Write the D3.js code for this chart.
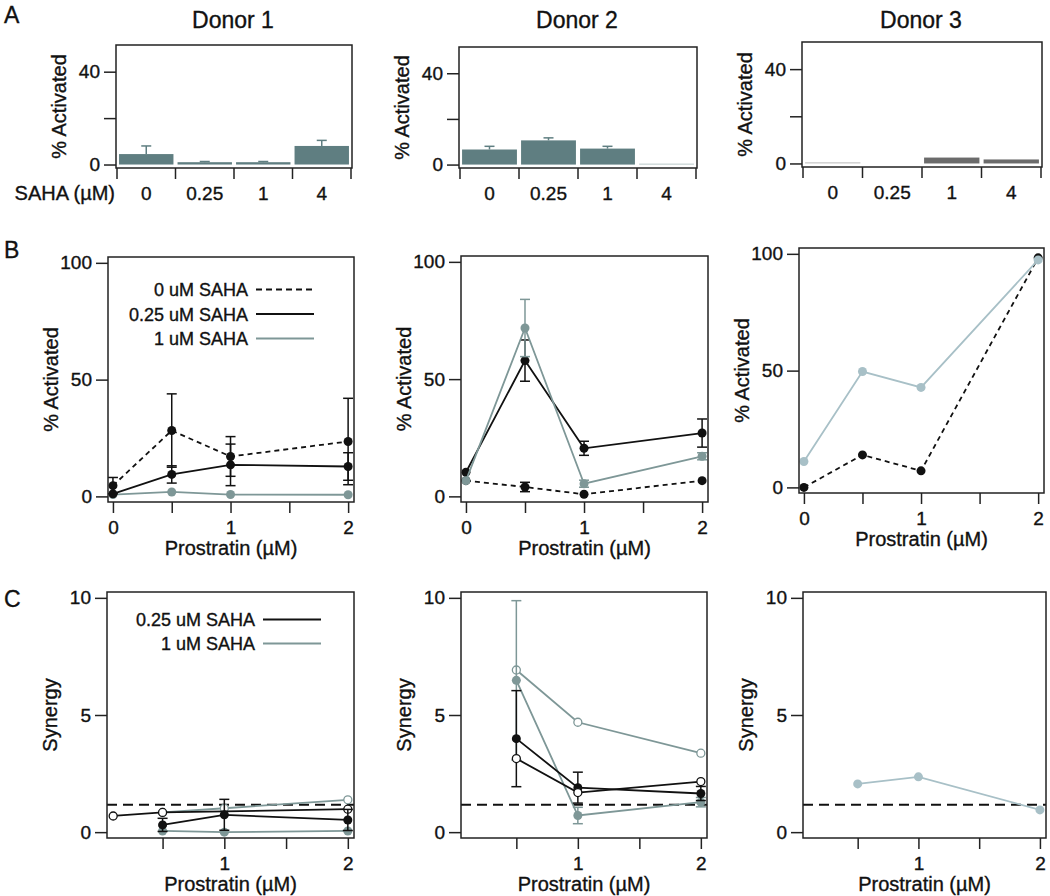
<!DOCTYPE html>
<html>
<head>
<meta charset="utf-8">
<script src="https://d3js.org/d3.v7.min.js"></script>
<style>
body { margin: 0; background: #fff; }
svg { display: block; font-family: "Liberation Sans", Arial, Helvetica, sans-serif; }
svg text { stroke: #111; stroke-width: 0.35px; }
.frame { fill: none; stroke: #222; stroke-width: 1.5px; }
.axis path { display: none; }
.axis line { stroke: #222; stroke-width: 1.5px; }
.axis text { font-size: 19px; fill: #111; font-family: "Liberation Sans", Arial, sans-serif; }
.title { font-size: 20px; fill: #111; }
.legend { font-size: 18px; fill: #111; }
</style>
<title>SAHA / Prostratin activation</title>
</head>
<body>
<script>
// ---- data ----
var donorNames = ["Donor 1", "Donor 2", "Donor 3"];
var sahaDoses = ["0", "0.25", "1", "4"];

// A: % activated by SAHA alone (mean, upper error)
var sahaD1 = [4.5, 1.0, 1.0, 8.0],  sahaD1Err = [3.5, 0.3, 0.3, 2.4];
var sahaD2 = [6.6, 10.6, 7.0, 0.4], sahaD2Err = [1.4, 1.1, 1.0, 0];
var sahaD3 = [0.5, 0, 2.5, 1.7],    sahaD3Err = [0, 0, 0, 0];

// B: % activated vs prostratin
var prostratin = [0, 0.5, 1, 2];
var d1Saha0 = [4.6, 28.2, 17.1, 23.5],  d1Saha0Err = [3.5, 15.7, 8.5, 18.5];
var d1Saha025 = [1.1, 9.4, 13.5, 12.8], d1Saha025Err = [0, 3.7, 8.9, 5.9];
var d1Saha1 = [0.8, 1.9, 0.8, 0.7];
var d2Saha0 = [6.7, 4.0, 0.9, 6.7],     d2Saha0Err = [0, 2.0, 0, 0];
var d2Saha025 = [10.3, 57.9, 20.5, 27.0], d2Saha025Err = [0, 8.8, 3.0, 6.0];
var d2Saha1 = [6.7, 71.8, 5.4, 17.1],   d2Saha1Err = [0, 12.2, 1.5, 1.5];
var d3Saha0 = [0, 13.9, 7.1, 98.3];
var d3Saha1 = [11.1, 49.6, 42.8, 97.4];

// C: synergy vs prostratin
var synDose = [0.5, 1, 2];
var d1Syn025 = [0.31, 0.74, 0.52], d1Syn025Err = [0.28, 0.66, 0.45];
var d1Syn025OpenDose = [0.1, 0.5, 2], d1Syn025Open = [0.69, 0.84, 0.98];
var d1Syn1 = [0.05, 0.0, 0.05];
var d1Syn1Open = [0.84, 1.02, 1.38];
var d2Syn025 = [3.99, 1.9, 1.65], d2Syn025Err = [2.05, 0.66, 0.3];
var d2Syn025Open = [3.14, 1.69, 2.16];
var d2Syn1 = [6.48, 0.71, 1.28], d2Syn1Err = [3.4, 0.35, 0.2];
var d2Syn1Open = [6.92, 4.69, 3.37];
var d3Syn1 = [2.06, 2.36, 0.95];
var synergyThreshold = 1.17;

// ---- styles ----
var teal = "#5f7e81", tealLight = "#b3c4c5", darkGray = "#6b6b6b", lightGray = "#c4c4c4";
var grayLine = "#7e9797", blueGray = "#a8c0c7", black = "#111";
var barFills = [[teal, teal, teal, teal], [teal, teal, teal, tealLight], [lightGray, darkGray, darkGray, darkGray]];

var svg = d3.select("body").append("svg")
    .attr("width", 1050)
    .attr("height", 896);

function frame(f) {
  svg.append("rect").attr("class", "frame")
    .attr("x", f.x).attr("y", f.y).attr("width", f.w).attr("height", f.h);
}

function yAxis(f, y, vals, fmt) {
  svg.append("g").attr("class", "axis")
    .attr("transform", "translate(" + f.x + ",0)")
    .call(d3.axisLeft(y).tickValues(vals).tickFormat(fmt || (d => d)).tickSize(12).tickPadding(4));
}

function xAxis(f, x, vals, fmt) {
  svg.append("g").attr("class", "axis")
    .attr("transform", "translate(0," + (f.y + f.h) + ")")
    .call(d3.axisBottom(x).tickValues(vals).tickFormat(fmt).tickSize(11).tickPadding(7.5));
}

function yTitle(f, txt) {
  svg.append("text").attr("class", "title")
    .attr("transform", "translate(" + (f.x - 57) + "," + (f.y + f.h / 2) + ") rotate(-90)")
    .attr("text-anchor", "middle").attr("dy", "0.35em").text(txt);
}

function xTitle(f, txt) {
  svg.append("text").attr("class", "title")
    .attr("x", f.x + f.w / 2).attr("y", f.y + f.h + 53)
    .attr("text-anchor", "middle").text(txt);
}

function series(x, y, xs, ys, errs, o) {
  var pts = xs.map((d, i) => [d, ys[i], errs ? errs[i] : 0]);
  var g = svg.append("g");
  g.append("path")
    .attr("d", d3.line().x(d => x(d[0])).y(d => y(d[1]))(pts))
    .attr("fill", "none").attr("stroke", o.color).attr("stroke-width", 1.8)
    .attr("stroke-dasharray", o.dash || null);
  var eb = g.selectAll(".eb").data(pts.filter(d => d[2] > 0)).enter().append("g")
    .attr("stroke", o.color).attr("stroke-width", 1.5);
  eb.append("line").attr("x1", d => x(d[0])).attr("x2", d => x(d[0]))
    .attr("y1", d => y(d[1] - d[2])).attr("y2", d => y(d[1] + d[2]));
  eb.append("line").attr("x1", d => x(d[0]) - 5).attr("x2", d => x(d[0]) + 5)
    .attr("y1", d => y(d[1] + d[2])).attr("y2", d => y(d[1] + d[2]));
  eb.append("line").attr("x1", d => x(d[0]) - 5).attr("x2", d => x(d[0]) + 5)
    .attr("y1", d => y(d[1] - d[2])).attr("y2", d => y(d[1] - d[2]));
  g.selectAll("circle").data(pts).enter().append("circle")
    .attr("cx", d => x(d[0])).attr("cy", d => y(d[1]))
    .attr("r", o.open ? 4 : 4.5)
    .attr("fill", o.open ? "#fff" : o.color)
    .attr("stroke", o.color).attr("stroke-width", o.open ? 1.3 : 0);
}

function legend(f, items, dx, dy0, step) {
  items.forEach(function(it, i) {
    var yy = f.y + dy0 + i * step;
    svg.append("text").attr("class", "legend")
      .attr("x", f.x + dx).attr("y", yy).attr("text-anchor", "end").text(it.label);
    svg.append("line")
      .attr("x1", f.x + dx + 8).attr("x2", f.x + dx + 66)
      .attr("y1", yy - 6.5).attr("y2", yy - 6.5)
      .attr("stroke", it.color).attr("stroke-width", 2)
      .attr("stroke-dasharray", it.dash || null);
  });
}

// panel letters
[["A", 23], ["B", 258], ["C", 607]].forEach(function(p) {
  svg.append("text").attr("x", 4).attr("y", p[1])
    .attr("font-size", 23).attr("fill", "#111").text(p[0]);
});

// ---- row A ----
var framesA = [{x: 116, y: 45, w: 236, h: 123}, {x: 459, y: 47, w: 238, h: 121}, {x: 802, y: 42, w: 240, h: 125}];
var sahaVals = [sahaD1, sahaD2, sahaD3], sahaErrs = [sahaD1Err, sahaD2Err, sahaD3Err];

framesA.forEach(function(f, k) {
  var y = d3.scaleLinear().domain([-1.5, 51.5]).range([f.y + f.h, f.y]);
  var x = d3.scaleBand().domain(sahaDoses).range([f.x + 1, f.x + f.w - 1])
      .paddingInner(0.07).paddingOuter(0.035);
  var bars = sahaDoses.map((d, i) => ({dose: d, v: sahaVals[k][i], e: sahaErrs[k][i], fill: barFills[k][i]}));

  svg.append("g").selectAll("rect").data(bars).enter().append("rect")
    .attr("x", d => x(d.dose)).attr("width", x.bandwidth())
    .attr("y", d => y(Math.max(d.v, 0.25))).attr("height", d => d.v > 0 ? y(0) - y(Math.max(d.v, 0.25)) : 0)
    .attr("fill", d => d.fill);
  var eb = svg.append("g").selectAll("g").data(bars.filter(d => d.e > 0)).enter().append("g")
    .attr("stroke", d => d.fill).attr("stroke-width", 1.5);
  eb.append("line").attr("x1", d => x(d.dose) + x.bandwidth() / 2).attr("x2", d => x(d.dose) + x.bandwidth() / 2)
    .attr("y1", d => y(d.v)).attr("y2", d => y(d.v + d.e));
  eb.append("line").attr("x1", d => x(d.dose) + x.bandwidth() / 2 - 5).attr("x2", d => x(d.dose) + x.bandwidth() / 2 + 5)
    .attr("y1", d => y(d.v + d.e)).attr("y2", d => y(d.v + d.e));

  frame(f);
  yAxis(f, y, [0, 20, 40], d => d === 20 ? "" : d);

  // category boundary ticks and labels
  var step = x.step(), x0 = x.range()[0];
  svg.append("g").selectAll("line").data(d3.range(sahaDoses.length + 1)).enter().append("line")
    .attr("x1", i => x0 + i * step).attr("x2", i => x0 + i * step)
    .attr("y1", f.y + f.h).attr("y2", f.y + f.h + 11)
    .attr("stroke", "#222").attr("stroke-width", 1.5);
  svg.append("g").selectAll("text").data(sahaDoses).enter().append("text")
    .attr("x", d => x(d) + x.bandwidth() / 2).attr("y", f.y + f.h + 32)
    .attr("text-anchor", "middle").attr("font-size", 19).attr("fill", "#111").text(d => d);

  yTitle(f, "% Activated");
  svg.append("text").attr("x", f.x + f.w / 2 - 1).attr("y", 28)
    .attr("text-anchor", "middle").attr("font-size", 23).attr("fill", "#111").text(donorNames[k]);
});
svg.append("text").attr("x", 115).attr("y", framesA[0].y + framesA[0].h + 32)
  .attr("text-anchor", "end").attr("font-size", 20).attr("fill", "#111").text("SAHA (\u00b5M)");

// ---- row B ----
var framesB = [{x: 108, y: 257, w: 246, h: 245}, {x: 461, y: 256, w: 247, h: 246}, {x: 799, y: 248, w: 245, h: 245}];
var bScales = framesB.map(function(f) {
  return {
    x: d3.scaleLinear().domain([-0.042, 2.05]).range([f.x, f.x + f.w]),
    y: d3.scaleLinear().domain([-2.4, 102.5]).range([f.y + f.h, f.y])
  };
});

var s = bScales[0];
series(s.x, s.y, prostratin, d1Saha1, null, {color: grayLine});
series(s.x, s.y, prostratin, d1Saha025, d1Saha025Err, {color: black});
series(s.x, s.y, prostratin, d1Saha0, d1Saha0Err, {color: black, dash: "5,4"});
s = bScales[1];
series(s.x, s.y, prostratin, d2Saha0, d2Saha0Err, {color: black, dash: "5,4"});
series(s.x, s.y, prostratin, d2Saha025, d2Saha025Err, {color: black});
series(s.x, s.y, prostratin, d2Saha1, d2Saha1Err, {color: grayLine});
s = bScales[2];
series(s.x, s.y, prostratin, d3Saha0, null, {color: black, dash: "5,4"});
series(s.x, s.y, prostratin, d3Saha1, null, {color: blueGray});

framesB.forEach(function(f, k) {
  frame(f);
  yAxis(f, bScales[k].y, [0, 50, 100]);
  xAxis(f, bScales[k].x, [0, 0.5, 1, 1.5, 2], d => Number.isInteger(d) ? d : "");
  yTitle(f, "% Activated");
  xTitle(f, "Prostratin (\u00b5M)");
});
legend(framesB[0], [
  {label: "0 uM SAHA", color: black, dash: "6,4"},
  {label: "0.25 uM SAHA", color: black},
  {label: "1 uM SAHA", color: grayLine}
], 140, 39, 24.5);

// ---- row C ----
var framesC = [{x: 107, y: 592, w: 247, h: 246}, {x: 461, y: 592, w: 246, h: 246}, {x: 803, y: 592, w: 243, h: 246}];
var cScales = framesC.map(function(f) {
  return {
    x: d3.scaleLinear().domain([0.05, 2.05]).range([f.x, f.x + f.w]),
    y: d3.scaleLinear().domain([-0.25, 10.25]).range([f.y + f.h, f.y])
  };
});

framesC.forEach(function(f, k) {
  var sc = cScales[k];
  svg.append("line")
    .attr("x1", f.x).attr("x2", f.x + f.w)
    .attr("y1", sc.y(synergyThreshold)).attr("y2", sc.y(synergyThreshold))
    .attr("stroke", black).attr("stroke-width", 2).attr("stroke-dasharray", "10,6");
});

s = cScales[0];
series(s.x, s.y, synDose, d1Syn1Open, null, {color: grayLine, open: true});
series(s.x, s.y, synDose, d1Syn1, null, {color: grayLine});
series(s.x, s.y, d1Syn025OpenDose, d1Syn025Open, null, {color: black, open: true});
series(s.x, s.y, synDose, d1Syn025, d1Syn025Err, {color: black});
s = cScales[1];
series(s.x, s.y, synDose, d2Syn1Open, null, {color: grayLine, open: true});
series(s.x, s.y, synDose, d2Syn1, d2Syn1Err, {color: grayLine});
series(s.x, s.y, synDose, d2Syn025, d2Syn025Err, {color: black});
series(s.x, s.y, synDose, d2Syn025Open, null, {color: black, open: true});
s = cScales[2];
series(s.x, s.y, synDose, d3Syn1, null, {color: blueGray});

framesC.forEach(function(f, k) {
  frame(f);
  yAxis(f, cScales[k].y, [0, 5, 10]);
  xAxis(f, cScales[k].x, [0.5, 1, 1.5, 2], d => Number.isInteger(d) ? d : "");
  yTitle(f, "Synergy");
  xTitle(f, "Prostratin (\u00b5M)");
});
legend(framesC[0], [
  {label: "0.25 uM SAHA", color: black},
  {label: "1 uM SAHA", color: grayLine}
], 148, 34, 24);
</script>
</body>
</html>
